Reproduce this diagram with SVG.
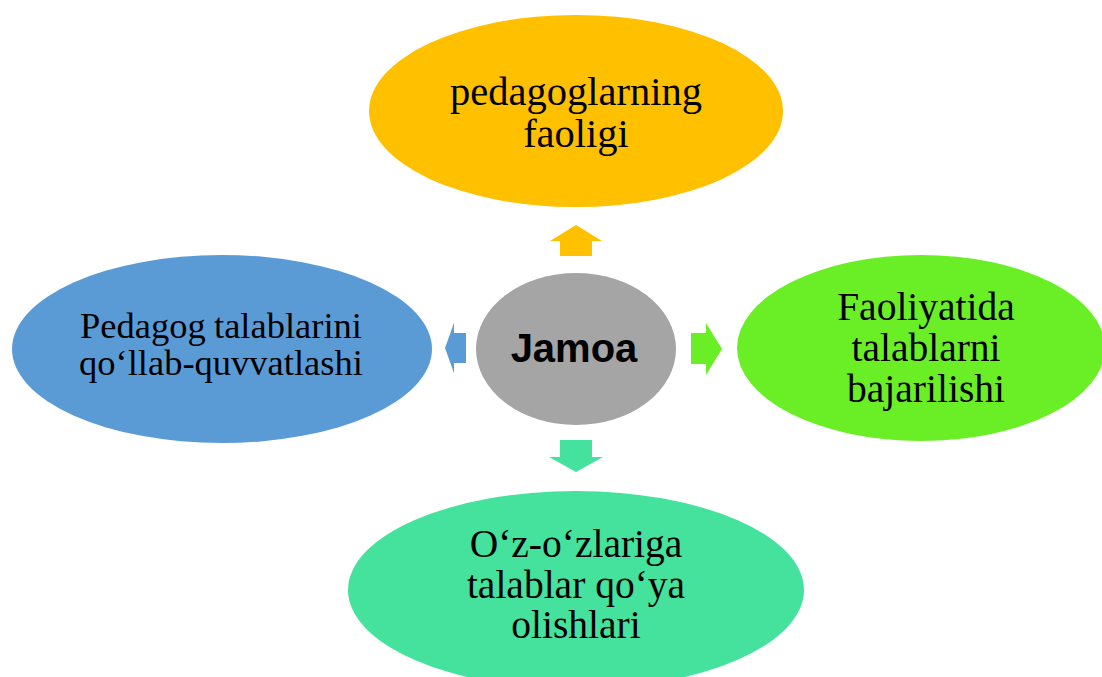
<svg xmlns="http://www.w3.org/2000/svg" width="1102" height="677" viewBox="0 0 1102 677">
<style>
.t{font-family:"Liberation Serif","Times New Roman",serif;fill:#000;text-anchor:middle}
.c{font-family:"Liberation Sans",Arial,sans-serif;font-weight:bold;font-size:40px;fill:#000;text-anchor:middle}
</style>
<rect width="1102" height="677" fill="#fff"/>
<g id="connectors">
<polygon points="576,225 602,241 592,241 592,256 560,256 560,241 550,241" fill="#FFC000"/>
<polygon points="576,472 603,457 592,457 592,440 560,440 560,457 549,457" fill="#44E29C"/>
<polygon points="445,348 454,323 454,333 466,333 466,363 454,363 454,373" fill="#5B9BD5"/>
<polygon points="722,349 706,323 706,333 691,333 691,364 706,364 706,375" fill="#6AEF27"/>
</g>
<g id="node-top">
<ellipse cx="576" cy="111" rx="207" ry="96" fill="#FFC000"/>
<text class="t" font-size="40.5" x="576" y="105">pedagoglarning</text>
<text class="t" font-size="40.5" x="576" y="147">faoligi</text>
</g>
<g id="node-left">
<ellipse cx="222" cy="349" rx="210" ry="94" fill="#5B9BD5"/>
<text class="t" font-size="36.5" x="80" y="338" style="text-anchor:start">Pedagog</text>
<text class="t" font-size="36.5" x="362" y="338" style="text-anchor:end">talablarini</text>
<text class="t" font-size="36.5" x="221" y="375">qo‘llab-quvvatlashi</text>
</g>
<g id="node-right">
<ellipse cx="921" cy="348" rx="184" ry="93" fill="#6AEF27"/>
<text class="t" font-size="39.5" x="926" y="320">Faoliyatida</text>
<text class="t" font-size="39.5" x="926" y="361">talablarni</text>
<text class="t" font-size="39.5" x="926" y="402">bajarilishi</text>
</g>
<g id="node-bottom">
<ellipse cx="576" cy="590" rx="228" ry="99" fill="#44E29C"/>
<text class="t" font-size="39.5" x="576" y="557">O‘z-o‘zlariga</text>
<text class="t" font-size="39.5" x="576" y="598">talablar qo‘ya</text>
<text class="t" font-size="39.5" x="576" y="638">olishlari</text>
</g>
<g id="node-center">
<ellipse cx="576" cy="349" rx="100" ry="76" fill="#A5A5A5"/>
<text class="c" x="574" y="362">Jamoa</text>
</g>
</svg>
